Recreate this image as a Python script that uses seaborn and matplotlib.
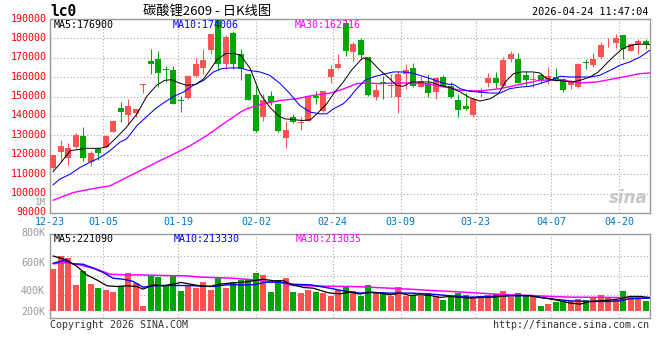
import numpy as np
import matplotlib
matplotlib.use("Agg")
import matplotlib.pyplot as plt
import matplotlib.transforms as mtransforms
import seaborn as sns

sns.set_theme(style="white")
plt.rcParams['font.family'] = ['DejaVu Sans Mono', 'Noto Sans CJK SC', 'DejaVu Sans']

# ---------------- data ----------------
opens = [112980, 121270, 118500, 123850, 129900, 116080, 122820, 123850, 131970, 144060,
         140610, 141640, 156000, 168410, 169280, 164440, 163580, 148100, 149240, 160470,
         164790, 173940, 189500, 166690, 182920, 172210, 161500, 150970, 139740, 150110,
         145960, 128520, 139740, 136290, 137670, 150110, 142330, 160120, 164790, 187750,
         173080, 179120, 170480, 149760, 157200, 155290, 149760, 161850, 164960, 154940,
         157010, 152350, 160120, 155290, 148030, 144920, 140610, 151830, 157010, 159600,
         155290, 169280, 169280, 160990, 158400, 161330, 158910, 160120, 159260, 155800,
         154940, 167600, 166170, 170480, 177910, 177390, 181710, 173590, 176870, 178600]
highs = [120300, 127650, 125930, 131110, 134560, 122130, 124200, 130100, 137900, 147000,
         148720, 143500, 156400, 174280, 173590, 165650, 165820, 150110, 161000, 169970,
         174280, 182400, 190000, 181710, 183960, 174280, 161700, 155290, 151490, 152700,
         146100, 137670, 140780, 139740, 150600, 152700, 152800, 166170, 172210, 189480,
         177910, 180330, 170600, 156320, 160640, 161850, 163230, 167030, 167550, 160640,
         161500, 160120, 160990, 157530, 151490, 151830, 149240, 154600, 162190, 162710,
         170480, 173420, 172560, 163060, 162710, 162190, 165300, 164960, 159400, 158400,
         167200, 169620, 172560, 178260, 180330, 182230, 181900, 177390, 179460, 179460]
lows = [112700, 116950, 114880, 123500, 116600, 114360, 117290, 123500, 131700, 137150,
        135940, 139400, 151830, 161850, 154940, 157530, 146000, 141990, 149000, 160120,
        161850, 172210, 163920, 164440, 164440, 158740, 148000, 132000, 137330, 145440,
        131630, 123510, 136290, 132840, 137500, 145960, 142200, 157010, 164440, 171000,
        168410, 169280, 150500, 148030, 148550, 149760, 141470, 154080, 155100, 154800,
        149760, 148900, 154800, 149410, 139740, 143200, 139740, 149760, 154940, 154600,
        155100, 167890, 156800, 155290, 154940, 157010, 156320, 157900, 152350, 153730,
        154600, 164440, 165300, 169280, 175320, 175150, 169620, 173420, 172210, 174460]
closes = [120060, 124550, 123340, 130420, 118160, 121090, 120750, 129900, 137670, 141990,
          144920, 143370, 156320, 166690, 162190, 163580, 146130, 147860, 160810, 167030,
          169100, 182230, 167030, 180850, 166690, 164440, 148380, 132150, 148030, 147000,
          132150, 133010, 137150, 137150, 150450, 149420, 152700, 164440, 166690, 173590,
          176870, 171690, 150620, 153560, 157010, 155800, 161500, 163580, 155290, 158050,
          151830, 159780, 155290, 149760, 142850, 143370, 148900, 153210, 159600, 157010,
          168760, 171870, 157010, 158400, 159260, 158050, 160640, 158050, 153210, 157530,
          167030, 167380, 169280, 176530, 178260, 179980, 174460, 176870, 178600, 176870]
volumes = [551, 643, 629, 437, 539, 444, 416, 401, 387, 430,
           522, 451, 288, 503, 494, 437, 503, 394, 437, 416,
           454, 401, 489, 416, 454, 475, 480, 525, 508, 387,
           473, 486, 387, 382, 401, 387, 382, 359, 397, 425,
           390, 354, 437, 378, 378, 354, 425, 354, 366, 354,
           382, 354, 330, 347, 382, 366, 347, 359, 361, 371,
           394, 347, 382, 359, 359, 288, 302, 311, 323, 318,
           335, 330, 347, 366, 347, 330, 394, 359, 359, 323]  # thousands

# moving-average lines, read as (bar position, value) points
ma5_x = [0, 0.9, 2.3, 4.5, 6.3, 7.2, 8.5, 9.8, 11.2, 12.5, 13.8, 14.9, 15.8, 16.5, 17.8, 19.1,
         20.1, 20.9, 21.8, 23, 24.1, 25, 26.3, 27.6, 28.9, 30, 30.9, 32, 33.2, 34.3, 35.2,
         36.5, 37.4, 38.7, 39.8, 41, 41.4, 42.3, 43.6, 44.9, 45.8, 46.7, 47.8, 49.2, 50.3,
         51.6, 53, 54.3, 55.6, 56.9, 58.3, 59.4, 60.3, 61.4, 62.5, 64, 64.9, 65.8, 66.9, 68,
         69.2, 70.3, 71.6, 72.7, 73.8, 74.7, 75.8, 76.5, 77.6, 78.7, 79.6]
ma5_v = [111250, 115220, 122130, 123340, 123340, 124200, 129030, 134220, 141120, 150110,
         155800, 158400, 158740, 157530, 155800, 156320, 159260, 163580, 168760, 172210,
         172210, 171350, 164440, 151490, 144580, 140260, 138530, 138190, 137670, 138020,
         141120, 146300, 151490, 157530, 163580, 168760, 169970, 168760, 163580, 159260,
         155800, 155290, 157530, 157530, 157530, 155800, 154600, 152350, 149420, 147690,
         148900, 151490, 157530, 161850, 162710, 162710, 162190, 159260, 158400, 158050,
         157530, 158400, 160120, 162710, 167030, 170480, 174280, 175660, 176870, 177040, 176870]
ma10_x = [0, 0.9, 2.3, 3.6, 4.9, 6.3, 7.6, 8.9, 9.8, 11.2, 12.5, 13.8, 14.9, 16.1, 17.4, 18.7,
          20.1, 21.4, 22.5, 23.8, 25, 26, 27.6, 28.9, 30.3, 31.6, 32.9, 34.3, 35.6, 36.5, 37.4,
          38.7, 39.4, 40.5, 41.6, 42.7, 44, 45.4, 46.7, 47.8, 48.9, 50.3, 51.6, 52.7, 53.4,
          54.3, 55.6, 56.9, 58.3, 59.6, 60.9, 62.3, 63.6, 64.9, 66.3, 67.6, 68.9, 71.6, 72.9,
          74.3, 75.6, 76.9, 78.3, 79.6]
ma10_v = [104510, 107450, 110040, 113490, 116080, 118670, 122130, 126450, 128170, 135080,
          139740, 144230, 147170, 150110, 152350, 155800, 158400, 162710, 164440, 164790,
          164790, 163580, 162710, 160990, 156670, 151490, 145440, 141990, 141120, 141120,
          143720, 146300, 148900, 154080, 158400, 160120, 161500, 162710, 162710, 162190,
          160990, 159260, 157530, 156320, 156320, 154080, 152700, 152350, 151830, 151830,
          154080, 154940, 155290, 156670, 158400, 160470, 160120, 160120, 160990, 163580,
          166170, 167890, 170480, 173940]
ma30_x = [0, 2.7, 4.9, 7.6, 9.8, 11.6, 13.8, 16.1, 18.3, 20.5, 22.7, 25, 25.8, 28, 30.3, 32.5,
          34.7, 37, 38.7, 40.5, 41.8, 43.6, 45.8, 48, 50.3, 52.7, 54.3, 56.9, 59.6, 62.3,
          64.9, 67.6, 70.3, 72.5, 75.6, 78.3, 79.6]
ma30_v = [96570, 100540, 102270, 103990, 108310, 111770, 116080, 120400, 124720, 129900,
          135940, 141990, 143720, 146300, 148030, 148890, 150620, 151830, 153900, 156670,
          157010, 156670, 157010, 157010, 156320, 154600, 153220, 152870, 154080, 156320,
          158400, 158740, 157010, 157530, 159780, 161850, 162190]

vma5_x = [0, 1.8, 3.2, 4.5, 5.8, 7.2, 8.5, 9.8, 11.2, 12, 13.4, 14.7, 16, 17.1, 18.3, 19.6,
          20.9, 22.3, 23.6, 25.4, 26.7, 28, 29.4, 30.7, 32, 33.4, 34.7, 36.1, 36.9, 38.3,
          39.6, 40.9, 42.3, 43.6, 44.9, 46.3, 47.6, 48.9, 50.3, 51.6, 52.9, 54.3, 55.6, 56.9,
          58.3, 59.6, 60.9, 62.3, 63.6, 64.9, 66.3, 67.6, 68.9, 70.3, 71.6, 72.9, 74.3, 75.6,
          76.9, 78.3, 79.5]
vma5_v = [643, 615, 568, 508, 473, 430, 425, 430, 425, 406, 437, 430, 442, 454, 442, 430,
          425, 442, 449, 456, 466, 477, 466, 466, 437, 418, 413, 390, 378, 373,
          385, 371, 385, 378, 366, 378, 361, 366, 361, 347, 354, 347, 342, 347,
          347, 354, 359, 361, 359, 347, 337, 323, 307, 299, 318, 323, 328, 337,
          354, 354, 347]
vma10_x = [0, 1.4, 2.7, 4, 5.4, 6.7, 8, 9.4, 10.7, 12, 13.4, 14.7, 17.8, 21.4, 23.2, 26.7,
           28.5, 30.3, 31.6, 34.3, 35.6, 36.9, 38.7, 40.9, 42.7, 44.9, 47.6, 50.3, 52.9,
           55.6, 58.3, 60.9, 63.6, 66.3, 68.9, 71.6, 74.3, 75.6, 76.9, 79.5]
vma10_v = [591, 610, 587, 584, 556, 525, 484, 477, 461, 420, 430, 432, 432, 425, 437, 437,
           456, 456, 442, 437, 425, 413, 394, 378, 382, 378, 378, 371, 359,
           349, 354, 359, 359, 337, 323, 318, 318, 323, 337, 342]
vma30_x = [0, 1.8, 3.6, 5.8, 7.6, 9.8, 11.6, 15.2, 17.8, 19.6, 21.4, 24, 26.7, 28.5, 30.3,
           32, 33.8, 36.9, 39.6, 42.3, 44.9, 47.6, 50.3, 52.9, 55.6, 58.3, 60.9, 63.6,
           66.3, 68.9, 74.3, 79.5]
vma30_v = [587, 596, 579, 549, 513, 508, 508, 503, 501, 492, 489, 484, 473, 461, 454,
           432, 430, 427, 425, 420, 413, 406, 397, 390, 382, 373, 366, 361,
           354, 349, 347, 342]

date_labels = ["12-23", "01-05", "01-19", "02-02", "02-24", "03-09", "03-23", "04-07", "04-20"]
price_ticks = list(range(90000, 190001, 10000))
vol_tick_vals = [800000, 600000, 400000, 200000]
vol_tick_labels = ["800K", "600K", "400K", "200K"]

title_text = "碳酸锂2609 - 日K线图"
symbol_text = "lc0"
time_text = "2026-04-24 11:47:04"
ma_main_labels = ["MA5:176900", "MA10:174006", "MA30:162216"]
ma_vol_labels = ["MA5:221090", "MA10:213330", "MA30:213035"]

# ---------------- styling / layout ----------------
W, H = 660, 360
RED, GREEN = "#FF5252", "#00A600"
MA_COLORS = ["#000000", "#0000FF", "#FF00FF"]
GRID = "#A8A8A8"
FRAME = "#9A9A9A"
TICK_POS = [-0.4, 6.71, 16.71, 27.09, 37.29, 46.36, 56.36, 66.4, 75.51]
VOL_BASE = 252000

opens_a, highs_a = np.array(opens, float), np.array(highs, float)
lows_a, closes_a = np.array(lows, float), np.array(closes, float)
vol_a = np.array(volumes, float) * 1000
x = np.arange(len(closes_a))
colors = np.where(closes_a >= opens_a, RED, GREEN)

fig = plt.figure(figsize=(W / 100, H / 100), dpi=100)
fig.patch.set_facecolor("white")


def rect(l, t, r, b):
    return [l / W, 1 - b / H, (r - l) / W, (b - t) / H]


def fx(px):
    return px / W


def fy(py):
    return 1 - py / H


ax = fig.add_axes(rect(50, 19, 650, 213))
axv = fig.add_axes(rect(50, 234, 650, 318))

# ---- candles ----
ax.vlines(x, lows_a, highs_a, colors=colors, lw=0.75, zorder=2)
body_lo = np.minimum(opens_a, closes_a)
body_h = np.maximum(np.abs(closes_a - opens_a), 450)
ax.bar(x, body_h, bottom=body_lo, width=0.8, color=colors, linewidth=0, zorder=3)

for xs, vs, c, lw in [(ma30_x, ma30_v, MA_COLORS[2], 1.0),
                      (ma10_x, ma10_v, MA_COLORS[1], 0.75),
                      (ma5_x, ma5_v, MA_COLORS[0], 0.7)]:
    sns.lineplot(x=xs, y=vs, ax=ax, color=c, linewidth=lw, legend=False, zorder=4)

ax.set_xlim(-0.4, 79.6)
ax.set_ylim(90000, 190000)
ax.set_yticks(price_ticks)
ax.set_yticklabels([str(v) for v in price_ticks])
ax.set_xticks(TICK_POS)
ax.set_xticklabels(date_labels)
ax.set_xlabel("")
ax.set_ylabel("")
ax.tick_params(axis="y", length=0, pad=2.4, labelsize=7.2, labelcolor="#FF0000")
ax.tick_params(axis="x", length=0, pad=2.6, labelsize=7.2, labelcolor="#0077CC")
ax.grid(True, linestyle=(0, (1, 2)), color=GRID, linewidth=0.8)
for s in ax.spines.values():
    s.set_color(FRAME)
    s.set_linewidth(1.0)
for lab in ax.get_yticklabels():
    lab.set_transform(lab.get_transform() +
                      mtransforms.ScaledTranslation(0, 1.5 / 100, fig.dpi_scale_trans))

# ---- volume ----
axv.bar(x, vol_a - VOL_BASE, bottom=VOL_BASE, width=0.8, color=colors, linewidth=0, zorder=3)
for xs, vs, c, lw in [(vma30_x, vma30_v, MA_COLORS[2], 1.1),
                      (vma10_x, vma10_v, MA_COLORS[1], 1.0),
                      (vma5_x, vma5_v, MA_COLORS[0], 0.9)]:
    sns.lineplot(x=xs, y=np.array(vs) * 1000, ax=axv, color=c, linewidth=lw,
                 legend=False, zorder=4)
axv.set_xlim(-0.4, 79.6)
axv.set_ylim(200000, 800000)
axv.set_xticks(TICK_POS)
axv.set_xticklabels([])
axv.set_yticks(vol_tick_vals)
axv.set_yticklabels(vol_tick_labels)
axv.set_xlabel("")
axv.set_ylabel("")
axv.tick_params(axis="y", length=0, pad=3.6, labelsize=7.2, labelcolor="#999999")
axv.tick_params(axis="x", length=0)
axv.grid(True, axis="x", linestyle=(0, (1, 2)), color=GRID, linewidth=0.8)
axv.grid(False, axis="y")
for f in [0.268, 0.505, 0.743]:
    axv.plot([0, 1], [f, f], transform=axv.transAxes, linestyle=(0, (1, 2)),
             color=GRID, linewidth=0.8, zorder=1)
for s in axv.spines.values():
    s.set_color(FRAME)
    s.set_linewidth(1.0)
# labels at the panel edges are pulled inward like in the original
labs = axv.get_yticklabels()
labs[-1].set_transform(labs[-1].get_transform() +
                       mtransforms.ScaledTranslation(0, 7 / 100, fig.dpi_scale_trans))
labs[0].set_transform(labs[0].get_transform() +
                      mtransforms.ScaledTranslation(0, 2.5 / 100, fig.dpi_scale_trans))

# ---- texts ----
mono = "DejaVu Sans Mono"
fig.text(fx(50), fy(11), symbol_text, ha="left", va="center", family=mono,
         weight="bold", size=10.5, color="black")
fig.text(fx(207), fy(11.5), title_text, ha="center", va="center",
         family=["Noto Sans CJK SC", "DejaVu Sans"], size=9.5, color="black")
fig.text(fx(648), fy(12), time_text, ha="right", va="center", family=mono, size=7.4, color="black")

for lbl, px, c in zip(ma_main_labels, [54, 173, 295], MA_COLORS):
    fig.text(fx(px), fy(24.5), lbl, ha="left", va="center", family=mono, size=7.2, color=c)
for lbl, px, c in zip(ma_vol_labels, [54, 174, 296], MA_COLORS):
    fig.text(fx(px), fy(239.5), lbl, ha="left", va="center", family=mono, size=7.2, color=c)

fig.text(fx(46), fy(202.5), "1M", ha="right", va="center", family=mono, size=6.6, color="#999999")
fig.text(fx(50), fy(324.5), "Copyright 2026 SINA.COM", ha="left", va="center",
         family=mono, size=7.2, color="#333333")
fig.text(fx(649), fy(324.5), "http://finance.sina.com.cn", ha="right", va="center",
         family=mono, size=7.2, color="#333333")
fig.text(fx(648), fy(198), "sina", ha="right", va="center", family="DejaVu Sans",
         style="italic", weight="bold", size=12, color="#BBBBBB", alpha=0.8)

fig.savefig("out.png", dpi=100, facecolor="white")
